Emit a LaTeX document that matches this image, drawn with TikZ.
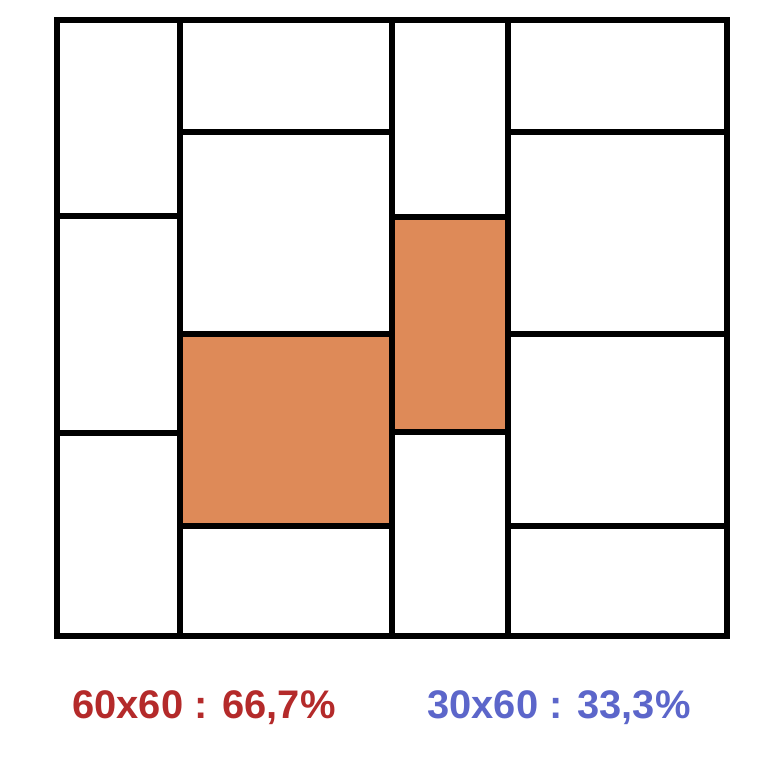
\documentclass[tikz,border=0pt]{standalone}
\usepackage{fontspec}
\setmainfont{Liberation Sans}
\usepackage{xcolor}
\definecolor{tileorange}{RGB}{222,138,88}
\definecolor{labelred}{RGB}{180,42,42}
\definecolor{labelblue}{RGB}{92,102,202}
\usepackage{tikz}
\usetikzlibrary{positioning}

\begin{document}
\begin{tikzpicture}[
    x=0.02cm, y=-0.02cm,
    tile/.style={draw=black, line width=3.6pt, line join=miter},
    bigtile/.style={tile, fill=tileorange},
    halftile/.style={tile, fill=tileorange},
    labeltext/.style={font=\fontsize{22.7}{27}\selectfont\bfseries, inner sep=0pt, anchor=center}
  ]
  \useasboundingbox (0,0) rectangle (780,780);

  % first column
  \draw[tile] (57,20) rectangle (180,216);
  \draw[tile] (57,216) rectangle (180,433);
  \draw[tile] (57,433) rectangle (180,636);

  % second column
  \draw[tile] (180,20) rectangle (392,132);
  \draw[tile] (180,132) rectangle (392,334);
  \draw[bigtile] (180,334) rectangle (392,526);
  \draw[tile] (180,526) rectangle (392,636);

  % third column
  \draw[tile] (392,20) rectangle (508,217);
  \draw[halftile] (392,217) rectangle (508,432);
  \draw[tile] (392,432) rectangle (508,636);

  % fourth column
  \draw[tile] (508,20) rectangle (727,132);
  \draw[tile] (508,132) rectangle (727,334);
  \draw[tile] (508,334) rectangle (727,526);
  \draw[tile] (508,526) rectangle (727,636);

  % outer frame
  \draw[tile] (57,20) rectangle (727,636);

  \node (big) [labeltext, text=labelred] at (204,708) {60x60 : 66,7\%};
  \node (half) [labeltext, text=labelblue] at (559,708) {30x60 : 33,3\%};

\end{tikzpicture}
\end{document}
